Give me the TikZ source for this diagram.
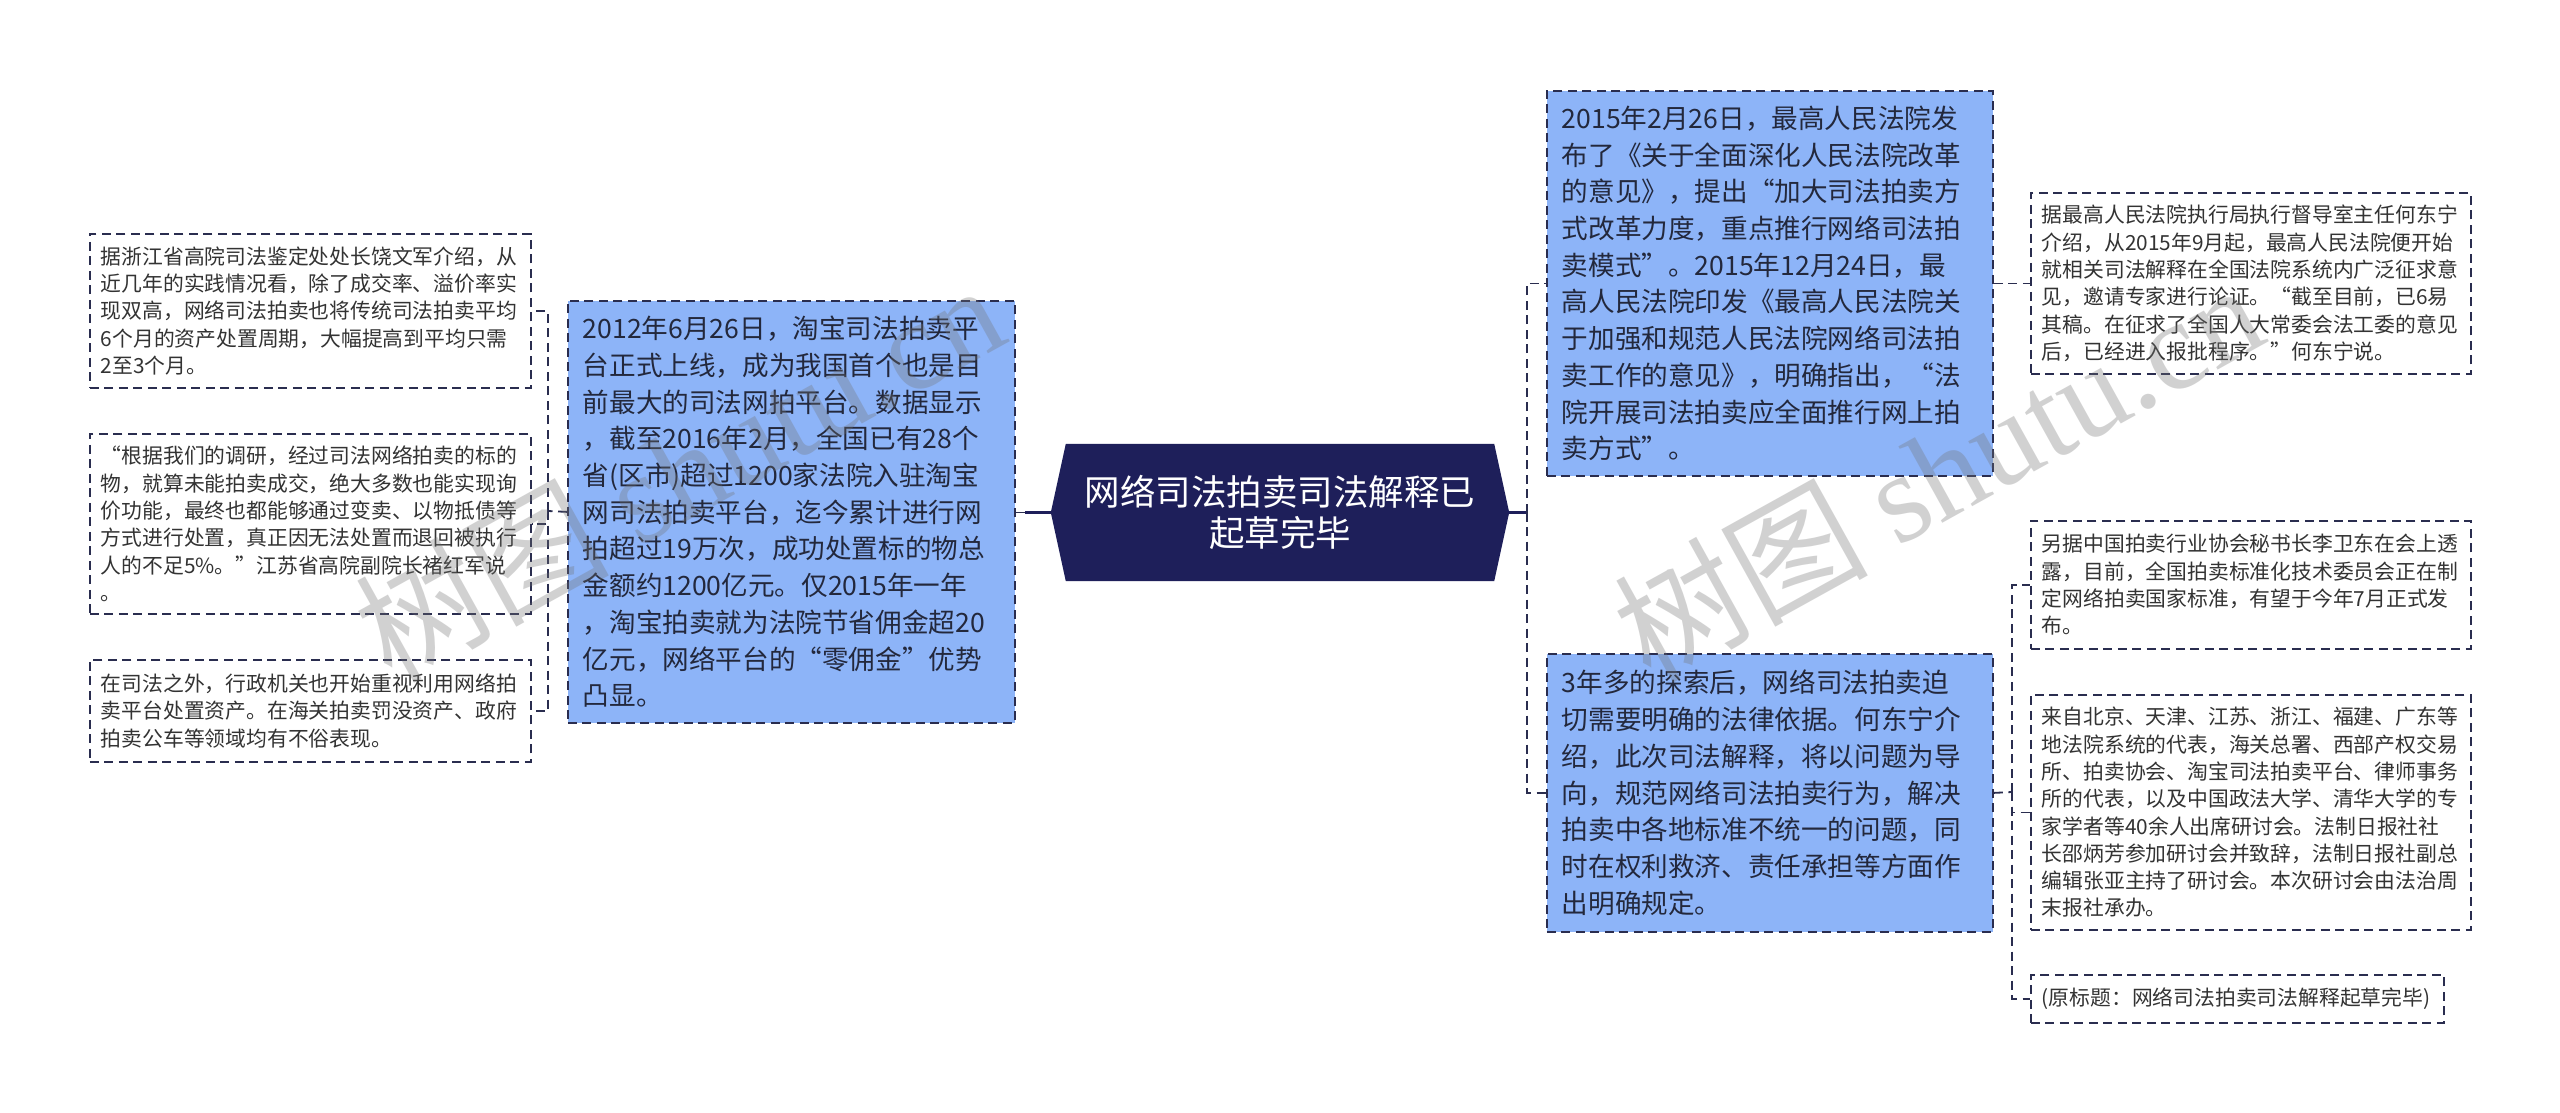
\documentclass[tikz,border=0pt]{standalone}
\usepackage{fontspec}
\setmainfont{Noto Sans CJK SC}
\newfontfamily\wmserif{Liberation Serif}
\usetikzlibrary{backgrounds}
\definecolor{navy}{HTML}{1E1F5A}
\definecolor{linec}{HTML}{2A2D4F}
\definecolor{bluef}{HTML}{8DB4F8}
\definecolor{txt}{HTML}{333333}
\definecolor{txtb}{HTML}{23283C}
\begin{document}
\begin{tikzpicture}[x=1pt,y=-1pt,
  dashln/.style={draw=linec, line width=1.8pt, dash pattern=on 9pt off 5.5pt},
  leaf/.style={dashln, anchor=north west, align=left, inner xsep=11pt, inner ysep=0pt,
    text=txt, font=\fontsize{20.8}{27.3}\selectfont},
  mainbox/.style={dashln, fill=bluef, anchor=north west, align=left, inner xsep=15pt, inner ysep=0pt,
    text=txtb, font=\fontsize{26.6}{36.7}\selectfont},
  conn/.style={dashln},
  stub/.style={draw=navy, line width=2.2pt},
  wm/.style={text=black!55, opacity=0.32, rotate=29, anchor=base west, inner sep=0pt}]
\useasboundingbox (0,0) rectangle (2560,1113);

% left leaves
\node[leaf, text width=419pt, minimum height=154pt] (L1) at (89,233) {据浙江省高院司法鉴定处处长饶文军介绍，从\\近几年的实践情况看，除了成交率、溢价率实\\现双高，网络司法拍卖也将传统司法拍卖平均\\6个月的资产处置周期，大幅提高到平均只需\\2至3个月。};
\node[leaf, text width=419pt, minimum height=180pt] (L2) at (89,433) {“根据我们的调研，经过司法网络拍卖的标的\\物，就算未能拍卖成交，绝大多数也能实现询\\价功能，最终也都能够通过变卖、以物抵债等\\方式进行处置，真正因无法处置而退回被执行\\人的不足5\%。”江苏省高院副院长褚红军说\\。};
\node[leaf, text width=419pt, minimum height=102pt] (L3) at (89,659) {在司法之外，行政机关也开始重视利用网络拍\\卖平台处置资产。在海关拍卖罚没资产、政府\\拍卖公车等领域均有不俗表现。};

% left main
\node[mainbox, text width=417pt, minimum height=422pt] (LM) at (567,300) {2012年6月26日，淘宝司法拍卖平\\台正式上线，成为我国首个也是目\\前最大的司法网拍平台。数据显示\\，截至2016年2月，全国已有28个\\省(区市)超过1200家法院入驻淘宝\\网司法拍卖平台，迄今累计进行网\\拍超过19万次，成功处置标的物总\\金额约1200亿元。仅2015年一年\\，淘宝拍卖就为法院节省佣金超20\\亿元，网络平台的“零佣金”优势\\凸显。};

% root
\node[minimum width=458pt, minimum height=137pt, inner sep=0pt, align=center, text=white,
  font=\fontsize{35.5}{41}\selectfont] (root) at (1280,512.5) {网络司法拍卖司法解释已\\起草完毕};
\begin{scope}[on background layer]
\fill[white] (0,0) rectangle (2560,1113);
\fill[navy] (root.west) -- ([xshift=15pt]root.north west) -- ([xshift=-15pt]root.north east)
  -- (root.east) -- ([xshift=-15pt]root.south east) -- ([xshift=15pt]root.south west) -- cycle;
\end{scope}

% right main
\node[mainbox, text width=416pt, minimum height=385pt] (R1) at (1546,90) {2015年2月26日，最高人民法院发\\布了《关于全面深化人民法院改革\\的意见》，提出“加大司法拍卖方\\式改革力度，重点推行网络司法拍\\卖模式”。2015年12月24日，最\\高人民法院印发《最高人民法院关\\于加强和规范人民法院网络司法拍\\卖工作的意见》，明确指出，“法\\院开展司法拍卖应全面推行网上拍\\卖方式”。};
\node[mainbox, text width=416pt, minimum height=278pt] (R2) at (1546,653) {3年多的探索后，网络司法拍卖迫\\切需要明确的法律依据。何东宁介\\绍，此次司法解释，将以问题为导\\向，规范网络司法拍卖行为，解决\\拍卖中各地标准不统一的问题，同\\时在权利救济、责任承担等方面作\\出明确规定。};

% right leaves
\node[leaf, text width=418pt, minimum height=181pt] (R1a) at (2030,192) {据最高人民法院执行局执行督导室主任何东宁\\介绍，从2015年9月起，最高人民法院便开始\\就相关司法解释在全国法院系统内广泛征求意\\见，邀请专家进行论证。“截至目前，已6易\\其稿。在征求了全国人大常委会法工委的意见\\后，已经进入报批程序。”何东宁说。};
\node[leaf, text width=418pt, minimum height=128pt] (R2a) at (2030,520) {另据中国拍卖行业协会秘书长李卫东在会上透\\露，目前，全国拍卖标准化技术委员会正在制\\定网络拍卖国家标准，有望于今年7月正式发\\布。};
\node[leaf, text width=418pt, minimum height=235pt] (R2b) at (2030,694) {来自北京、天津、江苏、浙江、福建、广东等\\地法院系统的代表，海关总署、西部产权交易\\所、拍卖协会、淘宝司法拍卖平台、律师事务\\所的代表，以及中国政法大学、清华大学的专\\家学者等40余人出席研讨会。法制日报社社\\长邵炳芳参加研讨会并致辞，法制日报社副总\\编辑张亚主持了研讨会。本次研讨会由法治周\\末报社承办。};
\node[leaf, text width=391pt, minimum height=48pt] (R2c) at (2030,974) {(原标题：网络司法拍卖司法解释起草完毕)};

% connectors
\coordinate (ls) at (1025,512.5);
\coordinate (lj) at (548,511);
\coordinate (rj) at (1527,512.5);
\coordinate (rj2) at (2012,792);
\draw[stub] (root.west) -- (ls);
\draw[conn] (ls) -- (LM.east |- ls);
\draw[conn] (LM.west) -- (lj);
\draw[conn] (lj) |- (L1.east);
\draw[conn] (lj) |- (L2.east);
\draw[conn] (lj) |- (L3.east);
\draw[stub] (root.east) -- (rj);
\draw[conn] (rj) |- (R1.west);
\draw[conn] (rj) |- (R2.west);
\draw[conn] (R1.east) -- (R1a.west);
\draw[conn] (R2.east) -- (rj2);
\draw[conn] (rj2) |- (R2a.west);
\draw[conn] (rj2) |- (R2b.west);
\draw[conn] (rj2) |- (R2c.west);

% watermarks
\node[wm, font=\fontsize{127}{127}\selectfont] (wm1) at (391,685) {树图 {\wmserif shutu.cn}};
\node[wm, font=\fontsize{127}{127}\selectfont] (wm2) at (1650,685) {树图 {\wmserif shutu.cn}};
\end{tikzpicture}
\end{document}
